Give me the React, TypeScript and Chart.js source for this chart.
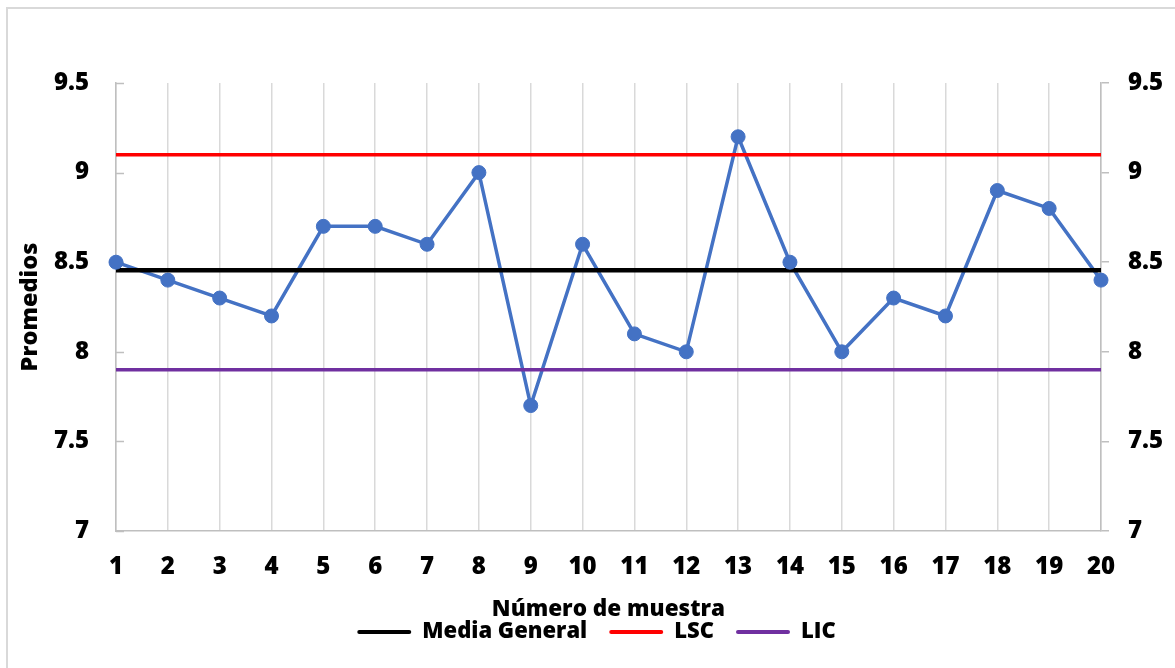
import { useEffect, useRef } from "react";
import { Chart, registerables } from "chart.js";

Chart.register(...registerables);

const categories = ["1", "2", "3", "4", "5", "6", "7", "8", "9", "10", "11", "12", "13", "14", "15", "16", "17", "18", "19", "20"];
const promedios = [8.5, 8.4, 8.3, 8.2, 8.7, 8.7, 8.6, 9.0, 7.7, 8.6, 8.1, 8.0, 9.2, 8.5, 8.0, 8.3, 8.2, 8.9, 8.8, 8.4];
const mediaGeneral = [8.455, 8.455, 8.455, 8.455, 8.455, 8.455, 8.455, 8.455, 8.455, 8.455, 8.455, 8.455, 8.455, 8.455, 8.455, 8.455, 8.455, 8.455, 8.455, 8.455];
const lsc = [9.1, 9.1, 9.1, 9.1, 9.1, 9.1, 9.1, 9.1, 9.1, 9.1, 9.1, 9.1, 9.1, 9.1, 9.1, 9.1, 9.1, 9.1, 9.1, 9.1];
const lic = [7.9, 7.9, 7.9, 7.9, 7.9, 7.9, 7.9, 7.9, 7.9, 7.9, 7.9, 7.9, 7.9, 7.9, 7.9, 7.9, 7.9, 7.9, 7.9, 7.9];
const yTicks = [7, 7.5, 8, 8.5, 9, 9.5];
const yTickLabels = ["7", "7.5", "8", "8.5", "9", "9.5"];

const legendNames = ["Media General", "LSC", "LIC"];

const innerTicks = {
  id: "innerTicks",
  beforeDatasetsDraw(chart: any) {
    const s = chart.scales.y;
    const ctx = chart.ctx;
    ctx.save();
    ctx.strokeStyle = "#bfbfbf";
    ctx.lineWidth = 1.5;
    s.ticks.forEach((t: any) => {
      const y = Math.round(s.getPixelForValue(t.value)) + 0.5;
      ctx.beginPath();
      ctx.moveTo(s.right, y);
      ctx.lineTo(s.right + 8, y);
      ctx.stroke();
    });
    ctx.restore();
  },
};

export default function App() {
  const ref = useRef<HTMLCanvasElement | null>(null);

  useEffect(() => {
    if (!ref.current) return;
    const FAM = "'Open Sans', sans-serif";
    const W = 800 as any;
    Chart.defaults.font.family = FAM;
    Chart.defaults.font.weight = W;
    Chart.defaults.color = "#000";

    const tickFont = { size: 24, weight: W, family: FAM };
    const xTitleFont = { size: 22.5, weight: W, family: FAM, lineHeight: 1 };
    const yTitleFont = { size: 23.5, weight: W, family: FAM, lineHeight: 1 };

    const yBase = {
      type: "linear" as const,
      min: yTicks[0],
      max: yTicks[yTicks.length - 1],
      afterBuildTicks: (scale: any) => {
        scale.ticks = yTicks.map((v) => ({ value: v }));
      },
    };
    const yLabel = (v: any) => {
      const i = yTicks.indexOf(Number(v));
      return i >= 0 ? yTickLabels[i] : "";
    };

    const chart = new Chart(ref.current, {
      type: "line",
      data: {
        labels: categories,
        datasets: [
          {
            label: "Promedios",
            data: promedios,
            borderColor: "#4472C4",
            backgroundColor: "#4472C4",
            borderWidth: 3.5,
            pointRadius: 0,
            order: 5,
            yAxisID: "y",
          },
          {
            label: "Media General",
            data: mediaGeneral,
            borderColor: "#000000",
            backgroundColor: "#000000",
            borderWidth: 4.5,
            pointRadius: 0,
            order: 3,
            yAxisID: "y",
          },
          {
            label: "LSC",
            data: lsc,
            borderColor: "#FF0000",
            backgroundColor: "#FF0000",
            borderWidth: 3.5,
            pointRadius: 0,
            order: 3,
            yAxisID: "y",
          },
          {
            label: "LIC",
            data: lic,
            borderColor: "#7030A0",
            backgroundColor: "#7030A0",
            borderWidth: 3.5,
            pointRadius: 0,
            order: 3,
            yAxisID: "y",
          },
          {
            label: "Promedios puntos",
            data: promedios,
            borderColor: "#4472C4",
            backgroundColor: "#4472C4",
            showLine: false,
            pointRadius: 7,
            pointBorderWidth: 1,
            order: 1,
            yAxisID: "y",
          },
        ],
      },
      options: {
        animation: false,
        responsive: false,
        devicePixelRatio: 1,
        layout: { padding: { left: 18, right: 0, top: 83, bottom: 15 } },
        plugins: {
          tooltip: { enabled: false },
          legend: {
            display: true,
            position: "bottom",
            labels: {
              boxWidth: 54,
              boxHeight: 4,
              padding: 22,
              color: "#000",
              font: { size: 22, weight: W, family: FAM },
              generateLabels: (c: any) => {
                const items = (Chart.defaults.plugins.legend.labels as any).generateLabels(c);
                return items
                  .filter((i: any) => legendNames.includes(i.text))
                  .map((i: any) => ({ ...i, lineWidth: 0, borderRadius: 2 }));
              },
            },
          },
        },
        scales: {
          x: {
            type: "category",
            offset: false,
            grid: { display: true, color: "#d9d9d9", lineWidth: 1.5, drawTicks: false },
            border: { display: true, color: "#bfbfbf", width: 1.5 },
            ticks: { autoSkip: false, maxRotation: 0, padding: 22, font: tickFont, color: "#000" },
            title: {
              display: true,
              text: "Número de muestra",
              font: xTitleFont,
              color: "#000",
              padding: { top: 0, bottom: -22 },
            },
            afterFit: (s: any) => {
              s.height = 68;
            },
          },
          y: {
            ...yBase,
            position: "left",
            grid: { display: true, drawOnChartArea: false, drawTicks: false },
            border: { display: true, color: "#bfbfbf", width: 1.5 },
            ticks: { padding: 27, font: tickFont, color: "#000", callback: yLabel },
            title: {
              display: true,
              text: "Promedios",
              font: yTitleFont,
              color: "#000",
              padding: { top: 0.25, bottom: 0 },
            },
            afterFit: (s: any) => {
              s.width = 98;
            },
          },
          y2: {
            ...yBase,
            position: "right",
            grid: { display: true, drawOnChartArea: false, drawTicks: true, tickLength: 8, color: "#bfbfbf", lineWidth: 1.5 },
            border: { display: true, color: "#bfbfbf", width: 1.5 },
            ticks: { padding: 19, font: tickFont, color: "#000", callback: yLabel },
            afterFit: (s: any) => {
              s.width = 74;
            },
          },
        },
      } as any,
      plugins: [innerTicks],
    });

    return () => {
      chart.destroy();
    };
  }, []);

  return (
    <div
      style={{
        position: "fixed",
        left: 0,
        top: 0,
        width: 1175,
        height: 668,
        overflow: "hidden",
        background: "#fff",
      }}
    >
      <canvas ref={ref} width={1175} height={668} style={{ position: "absolute", left: 0, top: 0, width: 1175, height: 668 }} />
      <div
        style={{
          position: "absolute",
          left: 6,
          top: 7,
          width: 1300,
          height: 800,
          border: "2px solid #d9d9d9",
          pointerEvents: "none",
        }}
      />
    </div>
  );
}
